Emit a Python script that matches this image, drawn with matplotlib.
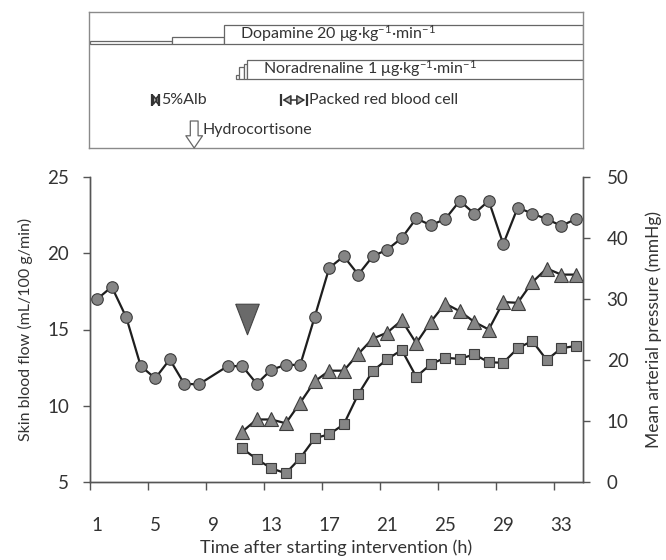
import matplotlib
matplotlib.use("Agg")
import matplotlib.pyplot as plt
from matplotlib.patches import Rectangle
from matplotlib.markers import MarkerStyle
from matplotlib.path import Path

plt.rcParams['font.family'] = ['Lato', 'DejaVu Sans']
plt.rcParams['mathtext.fontset'] = 'custom'
plt.rcParams['mathtext.rm'] = 'Lato'
plt.rcParams['mathtext.it'] = 'Lato'

# ---------------- data ----------------
map_hours = [1, 2, 3, 4, 5, 6, 7, 8, 10, 11, 12, 13, 14, 15, 16, 17, 18, 19, 20,
             21, 22, 23, 24, 25, 26, 27, 28, 29, 30, 31, 32, 33, 34]
map_values = [30.0, 32.0, 27.0, 19.0, 17.0, 20.1, 16.1, 16.0, 19.0, 19.0, 16.1, 18.4,
              19.2, 19.2, 27.1, 35.1, 37.0, 34.0, 37.0, 38.1, 40.0, 43.2, 42.1, 43.1,
              46.1, 44.0, 46.1, 39.0, 45.0, 44.0, 43.1, 42.0, 43.1]

sbf_hours = list(range(11, 35))
sbf_triangle = [8.3, 9.1, 9.1, 8.85, 10.2, 11.6, 12.3, 12.3, 13.4, 14.4, 14.8, 15.6,
                14.1, 15.5, 16.7, 16.2, 15.5, 15.0, 16.8, 16.75, 18.1, 19.0, 18.6, 18.6]
sbf_square = [7.2, 6.5, 5.9, 5.57, 6.57, 7.87, 8.13, 8.78, 10.75, 12.28, 13.05, 13.66,
              11.9, 12.72, 13.15, 13.07, 13.37, 12.85, 12.82, 13.77, 14.25, 13.0, 13.77, 13.92]

xtick_labels = [1, 5, 9, 13, 17, 21, 25, 29, 33]
left_ticks = [5, 10, 15, 20, 25]
right_ticks = [0, 10, 20, 30, 40, 50]

# ---------------- figure ----------------
W, H = 666, 560
fig = plt.figure(figsize=(W / 100, H / 100), dpi=100)

def box(l, t, r, b):
    return [l / W, 1 - b / H, (r - l) / W, (b - t) / H]

TXT = '#333333'
SP = '#555555'
LINE = '#1e1e1e'
FACE = '#858585'
EDGE = '#3c3c3c'

ax = fig.add_axes(box(90, 177, 583, 482))
ax2 = ax.twinx()

ax.set_xlim(0.5, 34.5)
ax.set_ylim(5, 25)
ax2.set_ylim(0, 50)

ax.plot(sbf_hours, sbf_triangle, color=LINE, lw=1.6, marker='^', ms=10.5,
        mfc=FACE, mec=EDGE, mew=0.8, zorder=3)
ax.plot(sbf_hours, sbf_square, color=LINE, lw=1.6, marker='s', ms=7.5,
        mfc=FACE, mec=EDGE, mew=0.8, zorder=3)
ax2.plot(map_hours, map_values, color=LINE, lw=1.6, marker='o', ms=8.3,
         mfc=FACE, mec=EDGE, mew=0.8, zorder=3)

# big inverted triangle
tri = MarkerStyle(Path([(-0.77, 1), (0.77, 1), (0, -1), (-0.77, 1)]))
ax.plot([11.33], [15.68], marker=tri, ms=22, mfc='#6a6a6a', mec='#444444', mew=0.8,
        ls='none', zorder=4)

for a in (ax, ax2):
    a.spines['top'].set_visible(False)
    for s in ('left', 'right', 'bottom'):
        a.spines[s].set_color(SP)
        a.spines[s].set_linewidth(1.0)

ax.set_xticks(xtick_labels)
ax.set_xticklabels([str(v) for v in xtick_labels])
ax.set_xticks([0.5 + 4 * k for k in range(9)], minor=True)
ax.tick_params(axis='x', which='major', length=0, pad=25, labelsize=13.5, labelcolor=TXT)
ax.tick_params(axis='x', which='minor', length=6, width=1.0, color=SP, direction='out')

ax.set_yticks(left_ticks)
ax.tick_params(axis='y', which='major', length=5, width=1.0, color=SP, pad=10,
               labelsize=13.5, labelcolor=TXT)
ax2.set_yticks(right_ticks)
ax2.tick_params(axis='y', which='major', length=5, width=1.0, color=SP, pad=12,
                labelsize=13.5, labelcolor=TXT)

ax.set_xlabel('Time after starting intervention (h)', fontsize=13, color=TXT, labelpad=4)
ax.set_ylabel('Skin blood flow (mL/100 g/min)', fontsize=11.5, color=TXT, labelpad=10)
ax2.set_ylabel('Mean arterial pressure (mmHg)', fontsize=12.5, color=TXT, labelpad=12)

# ---------------- top intervention panel ----------------
tp = fig.add_axes(box(89, 12, 583, 148))
tp.set_xlim(0.5, 34.5)
tp.set_ylim(148, 12)
tp.set_xticks([])
tp.set_yticks([])
for s in tp.spines.values():
    s.set_color('#8a8a8a')
    s.set_linewidth(1.0)

def bar(x0, x1, y0, y1):
    tp.add_patch(Rectangle((x0, y0), x1 - x0, y1 - y0, facecolor='white',
                           edgecolor='#666666', lw=0.9))

FS = 11.5
# Dopamine steps
bar(0.6, 6.2, 40.5, 43.5)
bar(6.2, 9.8, 37.0, 43.5)
bar(9.8, 34.5, 25, 44)
tp.text(10.9, 33.5, r'Dopamine 20 μg·kg$^{\mathregular{-1}}$·min$^{\mathregular{-1}}$',
        fontsize=FS, color=TXT, va='center', ha='left')

# Noradrenaline steps
bar(10.6, 10.85, 75, 79)
bar(10.85, 11.15, 67, 79)
bar(11.15, 11.4, 64, 79)
bar(11.4, 34.5, 60, 79)
tp.text(12.45, 69, r'Noradrenaline 1 μg·kg$^{\mathregular{-1}}$·min$^{\mathregular{-1}}$',
        fontsize=FS, color=TXT, va='center', ha='left')

def span_arrow(x0, x1, y, hl, hw):
    tp.vlines([x0, x1], y - 6, y + 6, color='#333333', lw=1.6)
    tp.annotate('', xy=(x1, y), xytext=(x0, y),
                arrowprops=dict(arrowstyle=f'<|-|>,head_length={hl},head_width={hw}',
                                mutation_scale=10, facecolor='#bbbbbb', edgecolor='#333333',
                                lw=1.1, shrinkA=1.2, shrinkB=1.2))

# 5% albumin
span_arrow(4.85, 5.35, 100, 0.25, 0.3)
tp.text(5.45, 100, '5%Alb', fontsize=FS, color=TXT, va='center', ha='left')

# packed red blood cell
span_arrow(13.7, 15.5, 100, 0.5, 0.3)
tp.text(15.65, 100, 'Packed red blood cell', fontsize=FS, color=TXT, va='center', ha='left')

# hydrocortisone
tp.annotate('', xy=(7.74, 148), xytext=(7.74, 121),
            arrowprops=dict(arrowstyle='simple,head_length=0.55,head_width=0.75,tail_width=0.35',
                            mutation_scale=16, facecolor='white', edgecolor='#666666', lw=0.9,
                            shrinkA=0, shrinkB=0))
tp.text(8.3, 130, 'Hydrocortisone', fontsize=FS, color=TXT, va='center', ha='left')

fig.savefig('out.png', dpi=100)
